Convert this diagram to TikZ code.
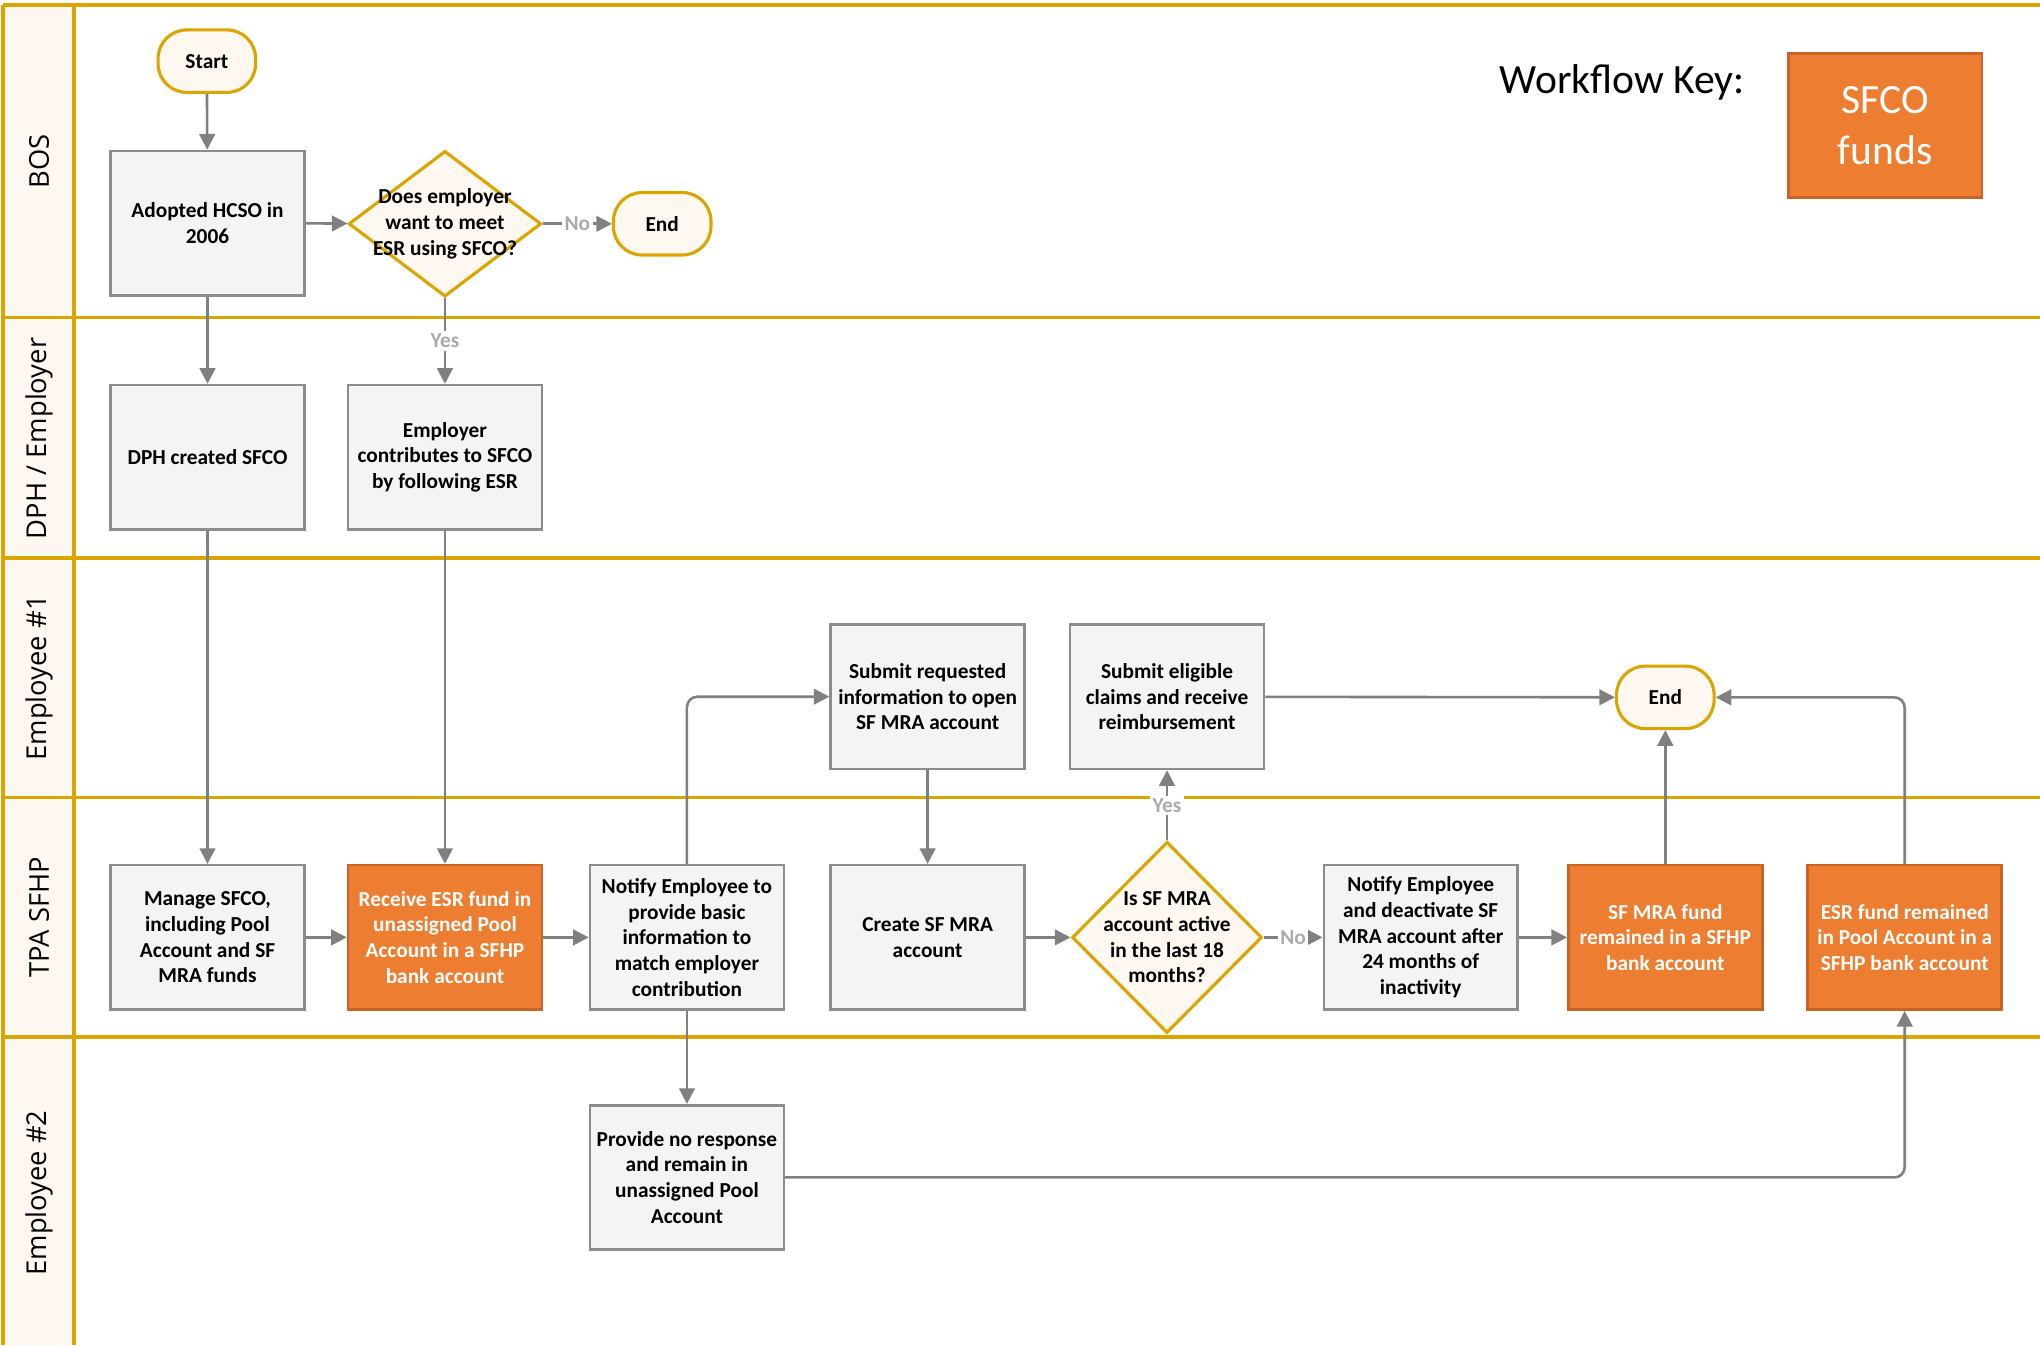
\documentclass[tikz,border=0pt]{standalone}
\usepackage{fontspec}
\setmainfont{Carlito}
\newfontfamily\lanefont{Open Sans}
\usetikzlibrary{arrows.meta,shapes.geometric}

\definecolor{lanegold}{RGB}{218,165,0}
\definecolor{cream}{RGB}{255,248,240}
\definecolor{boxfill}{RGB}{244,244,244}
\definecolor{boxedge}{RGB}{140,140,140}
\definecolor{fundfill}{RGB}{237,125,49}
\definecolor{fundedge}{RGB}{200,100,40}
\definecolor{flowgrey}{RGB}{128,128,128}
\definecolor{answergrey}{RGB}{170,170,170}

\tikzset{
  lane/.style={lanegold, line width=1.5pt},
  lanename/.style={rotate=90, font=\lanefont\fontsize{10.5}{12}\selectfont},
  boxtext/.style={font=\bfseries\fontsize{8.2}{9.9}\selectfont, align=center},
  proc/.style={boxtext, draw=boxedge, fill=boxfill, line width=1pt, minimum width=74.5pt, minimum height=55.5pt, inner sep=0pt},
  fund/.style={proc, draw=fundedge, fill=fundfill, text=white},
  term/.style={boxtext, draw=lanegold, fill=cream, line width=1.2pt, rounded corners=11pt, minimum width=37.5pt, minimum height=24pt},
  decide/.style={diamond, draw=lanegold, fill=cream, line width=1.2pt, inner sep=0pt},
  flow/.style={draw=flowgrey, line width=1pt, -{Triangle[length=6pt,width=6pt]}},
  answer/.style={boxtext, text=answergrey, fill=white, inner sep=1pt},
}

\begin{document}
\begin{tikzpicture}[x=0.5pt,y=-0.5pt]
\useasboundingbox (0,0) rectangle (1568,1034);
\fill[white] (0,0) rectangle (1568,1034);

% swim lanes
\fill[cream] (2,4) rectangle (57,1034);
\foreach \y in {4,244,429,613,797}
	\draw[lane] (2,\y) -- (1568,\y);
\draw[lane] (2,4) -- (2,1034);
\draw[lane] (57,4) -- (57,1034);

\node[lanename] (bos) at (30,124) {BOS};
\node[lanename] (dphlane) at (30,337) {DPH / Employer};
\node[lanename] (emp1lane) at (30,521) {Employee \#1};
\node[lanename] (tpalane) at (30,705) {TPA SFHP};
\node[lanename] (emp2lane) at (30,917) {Employee \#2};

% key
\node[font=\fontsize{16}{19}\selectfont] (keytxt) at (1247,63) {Workflow Key:};
\node[fund, font=\fontsize{16}{19.5}\selectfont] (key) at (1449,96.5) {SFCO\\funds};

% BOS
\node[term] (start) at (159,47) {Start};
\node[proc] (adopt) at (159.5,171.5) {Adopted HCSO in\\2006};
\node[decide, minimum width=74pt, minimum height=56pt,
	label={[boxtext]center:Does employer\\want to meet\\ESR using SFCO?}] (ask) at (342,172) {};
\node[term] (end1) at (509,172) {End};

% DPH / Employer
\node[proc] (dph) at (159.5,351.5) {DPH created SFCO};
\node[proc] (employer) at (342,351.5) {Employer\\contributes to SFCO\\by following ESR};

% Employee #1
\node[proc] (submit) at (713,535.5) {Submit requested\\information to open\\SF MRA account};
\node[proc] (claims) at (897,535.5) {Submit eligible\\claims and receive\\reimbursement};
\node[term] (end2) at (1280,536) {End};

% TPA SFHP
\node[proc] (manage) at (159.5,720.5) {Manage SFCO,\\including Pool\\Account and SF\\MRA funds};
\node[fund] (receive) at (342,720.5) {Receive ESR fund in\\unassigned Pool\\Account in a SFHP\\bank account};
\node[proc] (notify) at (528,720.5) {Notify Employee to\\provide basic\\information to\\match employer\\contribution};
\node[proc] (create) at (713,720.5) {Create SF MRA\\account};
\node[decide, minimum width=73pt, minimum height=73.5pt,
	label={[boxtext]center:Is SF MRA\\account active\\in the last 18\\months?}] (active) at (897,720.5) {};
\node[proc] (deact) at (1092,720.5) {Notify Employee\\and deactivate SF\\MRA account after\\24 months of\\inactivity};
\node[fund] (mrafund) at (1280,720.5) {SF MRA fund\\remained in a SFHP\\bank account};
\node[fund] (esrfund) at (1464,720.5) {ESR fund remained\\in Pool Account in a\\SFHP bank account};

% Employee #2
\node[proc] (noresp) at (528,905) {Provide no response\\and remain in\\unassigned Pool\\Account};

% connectors
\draw[flow] (start) -- (adopt);
\draw[flow] (adopt) -- (ask);
\draw[flow] (ask) -- node[answer] {No} (end1);
\draw[flow] (ask) -- node[answer] {Yes} (employer);
\draw[flow] (adopt) -- (dph);
\draw[flow] (dph) -- (manage);
\draw[flow] (employer) -- (receive);
\draw[flow] (manage) -- (receive);
\draw[flow] (receive) -- (notify);
\draw[flow, rounded corners=4pt] (notify.north) |- (submit.west);
\draw[flow] (notify) -- (noresp);
\draw[flow] (submit) -- (create);
\draw[flow] (create) -- (active);
\draw[flow] (active) -- node[answer] {Yes} (claims);
\draw[flow] (active) -- node[answer] {No} (deact);
\draw[flow] (deact) -- (mrafund);
\draw[flow] (mrafund) -- (end2);
\draw[flow] (claims) -- (end2);
\draw[flow, rounded corners=4pt] (esrfund.north) |- (end2.east);
\draw[flow, rounded corners=4pt] (noresp.east) -| (esrfund.south);
\end{tikzpicture}
\end{document}
